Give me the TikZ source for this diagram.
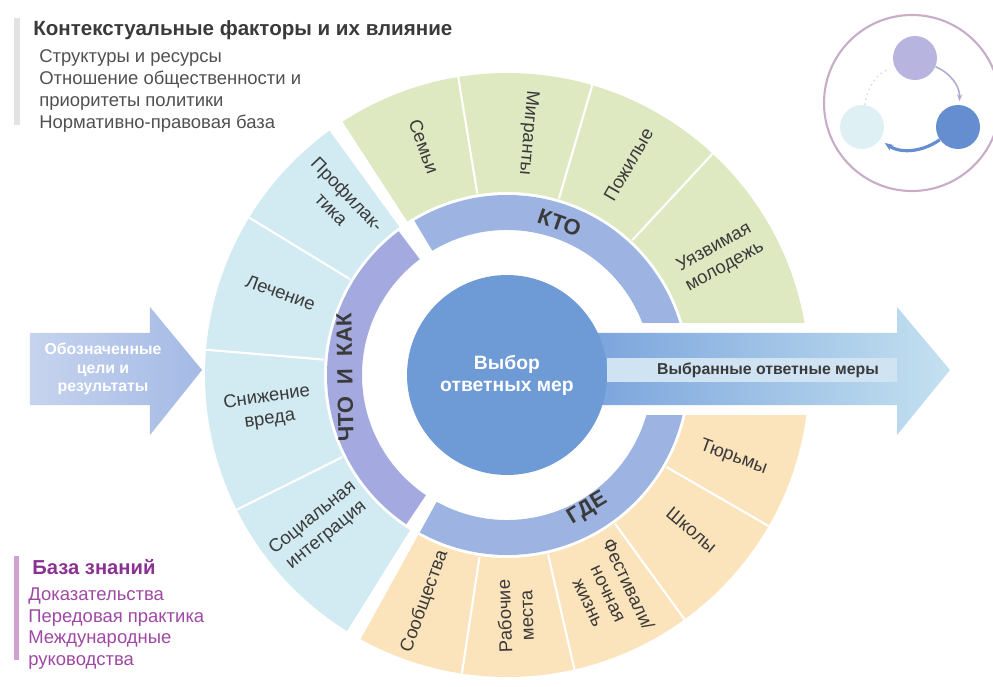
\documentclass[tikz,border=0pt]{standalone}
\usepackage{fontspec}
\setmainfont{Liberation Sans}
\usetikzlibrary{positioning,arrows.meta}

\definecolor{whocol}{RGB}{222,233,194}
\definecolor{whatcol}{RGB}{210,234,241}
\definecolor{wherecol}{RGB}{251,227,188}
\definecolor{bandcol}{RGB}{157,180,227}
\definecolor{bandlav}{RGB}{164,170,223}
\definecolor{disccol}{RGB}{110,154,213}
\definecolor{inkcol}{RGB}{58,58,58}
\definecolor{greycol}{RGB}{80,80,80}
\definecolor{plumcol}{RGB}{138,50,146}
\definecolor{plumlite}{RGB}{158,72,163}
\definecolor{barcol}{RGB}{226,226,226}
\definecolor{plumbar}{RGB}{208,160,208}
\definecolor{arrowdark}{RGB}{118,160,219}
\definecolor{arrowlite}{RGB}{196,225,240}
\definecolor{goalleft}{RGB}{198,211,238}
\definecolor{goalright}{RGB}{164,186,229}
\definecolor{stripcol}{RGB}{207,227,243}
\definecolor{ringcol}{RGB}{200,172,200}
\definecolor{plancol}{RGB}{184,180,224}
\definecolor{actcol}{RGB}{222,240,243}
\definecolor{choosecol}{RGB}{100,142,208}

\newcommand{\ringpart}[5]{%
	\fill[#5] (#1:#3) arc[start angle=#1, end angle=#2, radius=#3]
		-- (#2:#4) arc[start angle=#2, end angle=#1, radius=#4] -- cycle;}

\begin{document}
\begin{tikzpicture}[x=0.02cm,y=0.02cm,
		seglabel/.style={text=inkcol, align=center, inner sep=0pt,
			font=\fontsize{10.5}{12.5}\selectfont},
		bandlabel/.style={text=inkcol, inner sep=0pt,
			font=\bfseries\fontsize{12.5}{13}\selectfont},
		ctxtext/.style={text=greycol, align=left, inner sep=0pt,
			font=\fontsize{10.5}{12.5}\selectfont},
		kbtext/.style={text=plumlite, align=left, inner sep=0pt,
			font=\fontsize{10.5}{12.5}\selectfont},
		minicirc/.style={circle, minimum size=0.88cm, inner sep=0pt}]
	\useasboundingbox (-507,-311) rectangle (486,375);

	\ringpart{123}{2}{183}{302}{whocol}
	\ringpart{126}{238}{183}{302}{whatcol}
	\ringpart{241}{358}{183}{302}{wherecol}
	\foreach \a in {99.3,73.6,47.1,148.6,175.2,206.5,261.4,282.9,306,330}
		\draw[white, line width=1.2pt] (\a:184) -- (\a:302);

	\ringpart{121}{0}{145}{180}{bandcol}
	\ringpart{127}{236}{145}{180}{bandlav}
	\ringpart{241}{360}{145}{180}{bandcol}

	\path[preaction={draw=white, line width=0.4cm, line join=round}, left color=arrowdark, right color=arrowlite]
		(60,42) -- (390,42) -- (390,68) -- (443,5) -- (390,-60) -- (390,-30) -- (60,-30) -- cycle;
	\fill[stripcol] (100,17) rectangle (390,-7);
	\node[text=inkcol, font=\bfseries\fontsize{9}{10}\selectfont] (chosen) at (261,5) {Выбранные ответные меры};

	\node[circle, fill=disccol, minimum size=4cm, text=white, align=center,
		font=\bfseries\fontsize{11}{12.5}\selectfont] (choice) at (0,0) {Выбор\\ответных мер};

	\foreach \ang/\rot/\txt [count=\i] in {110/-70/Семьи, 85/-95/Мигранты, 60/60/Пожилые,
			29/29/{Уязвимая\\молодежь}}
		\node[seglabel, rotate=\rot] (who\i) at (\ang:243) {\txt};
	\foreach \ang/\rot/\txt [count=\i] in {134/-46/{Профилак-\\тика}, 160/-20/Лечение,
			188/8/{Снижение\\вреда}, 219/39/{Социальная\\интеграция}}
		\node[seglabel, rotate=\rot] (what\i) at (\ang:241) {\txt};
	\foreach \ang/\rot/\txt [count=\i] in {250/70/Сообщества, 272/92/{Рабочие\\места},
			295/-65/{Фестивали/\\ночная\\жизнь}, 320/-40/Школы, 340/-20/Тюрьмы}
		\node[seglabel, rotate=\rot] (where\i) at (\ang:241) {\txt};

	\node[bandlabel, rotate=-19] (who) at (71:161) {КТО};
	\node[bandlabel, rotate=91] (what) at (181:162) {ЧТО\ \ И\ \ КАК};
	\node[bandlabel, rotate=31] (where) at (301:156) {ГДЕ};

	\path[left color=goalleft, right color=goalright]
		(-477,42) -- (-357,42) -- (-357,68) -- (-305,5) -- (-357,-60) -- (-357,-30) -- (-477,-30) -- cycle;
	\node[text=white, align=center, font=\bfseries\fontsize{9}{10.5}\selectfont] (goals) at (-404,6)
		{Обозначенные\\цели и\\результаты};

	\fill[barcol] (-493,357) rectangle (-487,250);
	\node[anchor=west, inner sep=0pt, text=inkcol, font=\bfseries\fontsize{11.7}{12}\selectfont] (ctxtitle)
		at (-474,345) {Контекстуальные факторы и их влияние};
	\node[ctxtext, anchor=north west] (ctxlist) at (-468,326)
		{Структуры и ресурсы\\Отношение общественности и\\приоритеты политики\\Нормативно-правовая база};

	\fill[plumbar] (-493,-181) rectangle (-488,-285);
	\node[anchor=west, inner sep=0pt, text=plumcol, font=\bfseries\fontsize{11.5}{12}\selectfont] (kbtitle)
		at (-475,-192) {База знаний};
	\node[kbtext, anchor=north west] (kblist) at (-479,-212)
		{Доказательства\\Передовая практика\\Международные\\руководства};

	\draw[ringcol, line width=1.2pt] (405,272) circle[radius=88];
	\node[minicirc, fill=plancol] (plan) at (408,317) {};
	\node[minicirc, fill=choosecol] (pick) at (451,248) {};
	\node[minicirc, fill=actcol] (act) at (355,248) {};
	\draw[plancol!85!gray, line width=0.9pt, -{Stealth[length=4pt]}, shorten >=2pt] (plan) to[bend left=35] (pick);
	\draw[choosecol, line width=1.8pt, -{Stealth[length=5pt]}, shorten >=3pt] (pick) to[bend left=35] (act);
	\draw[actcol!70!gray!60, line width=0.9pt, dotted, shorten >=3pt] (act) to[bend left=30] (plan);
\end{tikzpicture}
\end{document}
